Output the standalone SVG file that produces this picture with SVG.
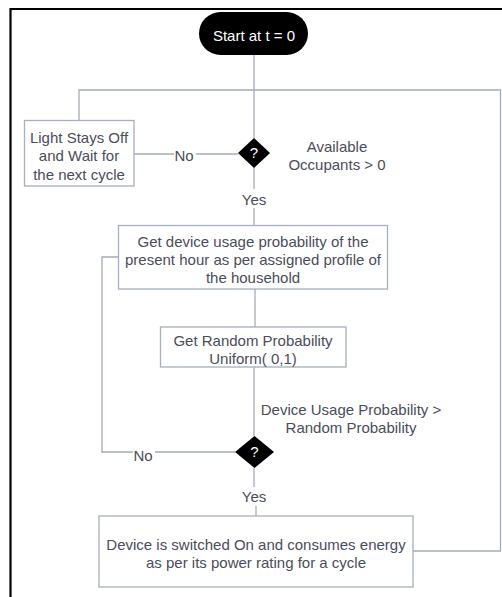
<svg xmlns="http://www.w3.org/2000/svg" width="502" height="597" viewBox="0 0 502 597">
  <style>
    .box { fill: #ffffff; stroke: #a7afc0; stroke-width: 1.3; }
    .term { fill: #000000; }
    .dia { fill: #000000; }
    .line { fill: none; stroke: #a3abbd; stroke-width: 1.3; }
    .txt { font-family: "Liberation Sans", Arial, sans-serif; font-size: 15px; fill: #4a4d5c; text-anchor: middle; }
    .wtxt { font-family: "Liberation Sans", Arial, sans-serif; font-size: 15px; fill: #ffffff; text-anchor: middle; }
    .frame { fill: none; stroke: #000000; stroke-width: 2.2; }
  </style>

  <rect x="0" y="0" width="502" height="597" fill="#ffffff"/>
  <!-- page frame -->
  <path class="frame" d="M10.5,600 V9 H505"/>

  <g id="connectors">
    <line class="line" x1="254" y1="55" x2="254" y2="138"/>
    <path class="line" d="M79,120 V90 H500.5 V551 H413"/>
    <line class="line" x1="134" y1="154" x2="238" y2="154"/>
    <line class="line" x1="254" y1="168" x2="254" y2="189"/>
    <line class="line" x1="254" y1="208" x2="254" y2="225"/>
    <path class="line" d="M118,257 H102 V452 H235"/>
    <line class="line" x1="255" y1="289" x2="255" y2="327"/>
    <line class="line" x1="254" y1="367" x2="254" y2="436"/>
    <line class="line" x1="254" y1="468" x2="254" y2="487"/>
    <line class="line" x1="256" y1="506" x2="256" y2="516"/>
    <g class="txt">
      <rect x="174" y="146" width="22" height="16" fill="#ffffff"/>
      <text x="184" y="161">No</text>
      <text x="254" y="205">Yes</text>
      <rect x="133" y="446" width="22" height="16" fill="#ffffff"/>
      <text x="143" y="461">No</text>
      <text x="254" y="502">Yes</text>
    </g>
  </g>

  <g id="start">
    <rect class="term" x="199" y="12" width="109" height="43" rx="21.5"/>
    <text class="wtxt" x="254" y="41">Start at t = 0</text>
  </g>

  <g id="light-off">
    <rect class="box" x="24.5" y="120.5" width="109.5" height="65.5"/>
    <text class="txt" x="79" y="143">Light Stays Off</text>
    <text class="txt" x="79" y="161">and Wait for</text>
    <text class="txt" x="79" y="180">the next cycle</text>
  </g>

  <g id="occupants-check">
    <polygon class="dia" points="254,138 270,153 254,168 238,153"/>
    <text class="wtxt" x="254" y="158" font-size="13">?</text>
    <text class="txt" x="337" y="152">Available</text>
    <text class="txt" x="337" y="170">Occupants &gt; 0</text>
  </g>

  <g id="usage-probability">
    <rect class="box" x="118.5" y="225.5" width="269" height="63.5"/>
    <text class="txt" x="253" y="247">Get device usage probability of the</text>
    <text class="txt" x="253" y="265">present hour as per assigned profile of</text>
    <text class="txt" x="253" y="283">the household</text>
  </g>

  <g id="random-probability">
    <rect class="box" x="160.5" y="327" width="185.5" height="40"/>
    <text class="txt" x="253" y="346">Get Random Probability</text>
    <text class="txt" x="253" y="364">Uniform( 0,1)</text>
  </g>

  <g id="usage-check">
    <polygon class="dia" points="254.5,436 274,452 254.5,468 235,452"/>
    <text class="wtxt" x="254.5" y="457" font-size="13">?</text>
    <text class="txt" x="351" y="415">Device Usage Probability &gt;</text>
    <text class="txt" x="351" y="433">Random Probability</text>
  </g>

  <g id="device-on">
    <rect class="box" x="99" y="516" width="314" height="71"/>
    <text class="txt" x="256" y="550">Device is switched On and consumes energy</text>
    <text class="txt" x="256" y="568">as per its power rating for a cycle</text>
  </g>
</svg>
